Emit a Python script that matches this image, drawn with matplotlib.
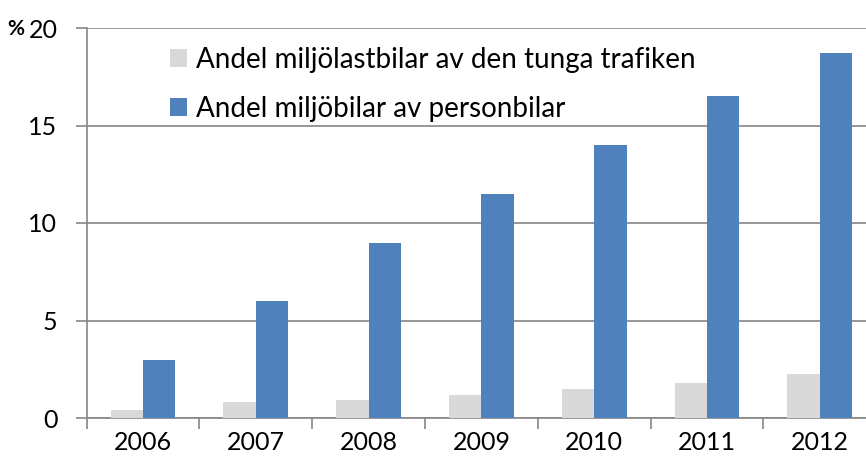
import matplotlib
matplotlib.use("Agg")
import matplotlib.pyplot as plt
import numpy as np

years = ["2006", "2007", "2008", "2009", "2010", "2011", "2012"]
tunga = [0.4, 0.8, 0.9, 1.2, 1.5, 1.8, 2.25]
person = [3.0, 6.0, 9.0, 11.5, 14.0, 16.5, 18.7]
labels = ["Andel miljölastbilar av den tunga trafiken",
          "Andel miljöbilar av personbilar"]

plt.rcParams['font.family'] = ['Lato', 'DejaVu Sans']

fig = plt.figure(figsize=(8.66, 4.62), dpi=100)
W, H = 866, 462
left, right = 86.6, 876.2
top, bottom = 28, 418
ax = fig.add_axes([left / W, 1 - bottom / H, (right - left) / W, (bottom - top) / H])

x = np.arange(len(years))
bw = 0.288
ax.bar(x - bw / 2, tunga, bw, color="#D9D9D9", label=labels[0], zorder=3)
ax.bar(x + bw / 2, person, bw, color="#4F81BD", label=labels[1], zorder=3)

ax.set_xlim(-0.5, len(years) - 0.5)
ax.set_ylim(0, 20)
ax.set_yticks([0, 5, 10, 15, 20])
ax.yaxis.grid(True, color="#868686", linewidth=1.2, zorder=0)
ax.set_axisbelow(True)

ax.set_xticks(x)
ax.set_xticklabels(years)
ax.set_xticks(np.arange(len(years) + 1) - 0.5, minor=True)
ax.tick_params(axis="x", which="major", length=0, pad=9, labelsize=18)
ax.tick_params(axis="x", which="minor", length=8, width=1.2, color="#868686")
ax.tick_params(axis="y", length=8, width=1.2, color="#868686", pad=13, labelsize=18)

for s in ["top", "right"]:
    ax.spines[s].set_visible(False)
for s in ["left", "bottom"]:
    ax.spines[s].set_color("#868686")
    ax.spines[s].set_linewidth(1.2)

fig.text(7 / W, 1 - 29 / H, "%", fontsize=15, fontweight="bold", va="center", ha="left")

leg = ax.legend(loc="upper left", bbox_to_anchor=(170 / W, 1 - 47 / H),
                bbox_transform=fig.transFigure, frameon=False,
                fontsize=20, handlelength=0.62, handleheight=0.62,
                handletextpad=0.3, labelspacing=0.82, borderaxespad=0, borderpad=0)

fig.savefig("out.png", dpi=100)
